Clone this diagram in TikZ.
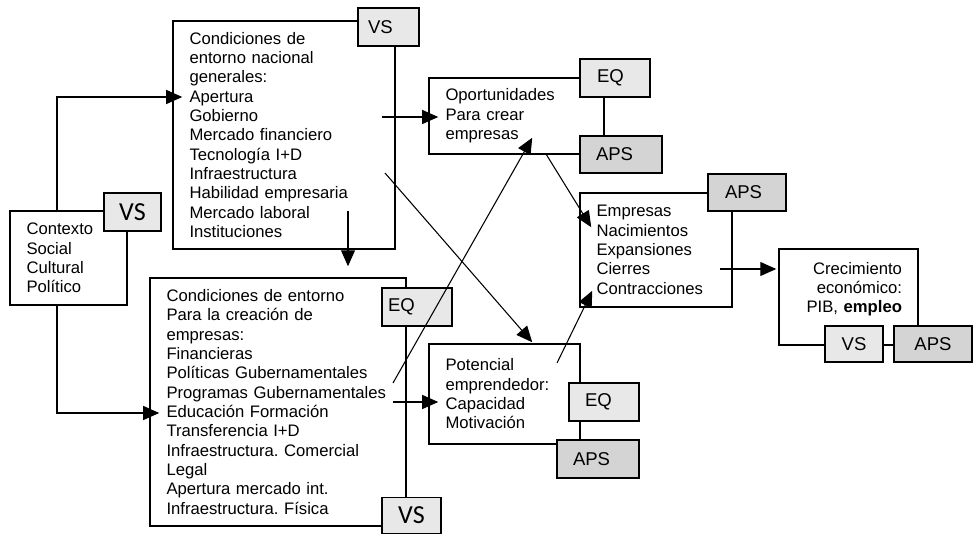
\documentclass[tikz,border=0pt]{standalone}
\usepackage{fontspec}
\setmainfont{Liberation Sans}
\newfontfamily\calib{Carlito}
\usetikzlibrary{arrows.meta,calc}
\definecolor{lg}{RGB}{232,232,232}
\definecolor{dg}{RGB}{212,212,212}
\frenchspacing
\begin{document}
\begin{tikzpicture}[x=0.75pt,y=-0.75pt,
  box/.style n args={3}{draw, line width=1.1pt, fill=white, text width=#1, minimum height=#2,
     inner xsep=12.4pt, inner ysep=0pt, align=#3, font=\fontsize{12.5pt}{14.5pt}\selectfont},
  lbl/.style n args={4}{draw, line width=1.1pt, fill=#4, text width=#1, minimum height=#2,
     inner xsep=#3, inner ysep=0pt, align=left, font=\fontsize{13.9pt}{16pt}\selectfont},
  clbl/.style n args={2}{draw, line width=1.1pt, fill=lg, text width=#1, minimum height=#2,
     inner xsep=6pt, inner ysep=0pt, align=center, font=\calib\fontsize{19.5pt}{22pt}\selectfont},
  alb/.style n args={3}{draw, line width=1.1pt, fill=#3, text width=#1, minimum height=#2,
     inner xsep=6pt, inner ysep=0pt, align=center, font=\fontsize{13.9pt}{16pt}\selectfont},
  arr/.style={line width=0.8pt, -{Triangle[length=12pt,width=10.5pt]}}]
\useasboundingbox (0,0) rectangle (973,534);

% main boxes
\node[box={141.75pt}{171pt}{left}] (b1) at (284,135) {Condiciones de\\ entorno nacional\\ generales:\\ Apertura\\ Gobierno\\ Mercado financiero\\ Tecnología I+D\\ Infraestructura\\ Habilidad empresaria\\ Mercado laboral\\ Instituciones};
\node[box={63pt}{70.5pt}{left}] (ctx) at (68.5,258) {Contexto\\ Social\\ Cultural\\ Político};
\node[box={167.25pt}{186pt}{left}] (b2) at (278,402) {Condiciones de entorno\\ Para la creación de\\ empresas:\\ Financieras\\ Políticas Gubernamentales\\ Programas Gubernamentales\\ Educación Formación\\ Transferencia I+D\\ Infraestructura. Comercial\\ Legal\\ Apertura mercado int.\\ Infraestructura. Física};
\node[box={106.5pt}{57pt}{left}] (opp) at (516.5,116) {Oportunidades\\ Para crear\\ empresas};
\node[box={89.25pt}{85.5pt}{left}] (emp) at (656,250) {Empresas\\ Nacimientos\\ Expansiones\\ Cierres\\ Contracciones};
\node[box={88.5pt}{75pt}{left}] (pot) at (504.5,394) {Potencial\\ emprendedor:\\ Capacidad\\ Motivación};
\node[box={80.25pt}{72pt}{right}, inner xsep=12pt] (cre) at (848.5,297) {Crecimiento\\ económico:\\ PIB, \textbf{empleo}\hspace*{9pt}\\ \mbox{}};

% labels
\node[lbl={30.75pt}{28.5pt}{7.5pt}{lg}] (vs1) at (388.5,27) {VS};
\node[clbl={30.75pt}{28.5pt}] (vsc) at (132.5,212) {VS};
\node[lbl={43.5pt}{28.5pt}{4.5pt}{lg}] (eq2) at (417,307) {EQ};
\node[clbl={32.25pt}{27pt}] (vs2) at (411.5,515.5) {VS};
\node[lbl={27pt}{28.5pt}{12.75pt}{lg}] (eqo) at (615,78) {EQ};
\node[lbl={37.5pt}{27.75pt}{12pt}{dg}] (apso) at (621,154.5) {APS};
\node[lbl={33pt}{27.75pt}{12.75pt}{dg}] (apse) at (747,192.5) {APS};
\node[lbl={28.5pt}{28.5pt}{12pt}{lg}] (eqp) at (604,402) {EQ};
\node[lbl={37.5pt}{28.5pt}{12pt}{dg}] (apsp) at (598,459) {APS};
\node[alb={31.5pt}{27pt}{lg}] (vsC) at (854,344) {VS};
\node[alb={46.5pt}{27pt}{dg}] (apsC) at (933,344) {APS};

% connectors
\coordinate (a1) at (57,97);
\coordinate (a2) at (57,413);
\draw[arr] (a1 |- ctx.north) -- (a1) -- ($(b1.west |- a1)+(10,0)$);
\draw[arr] (a2 |- ctx.south) -- (a2) -- ($(b2.west |- a2)+(10,0)$);
\coordinate (d1) at (348,211);
\draw[arr] (d1) -- ($(d1 |- b2.north)+(0,-11)$);
\coordinate (o1) at (382,117);
\draw[arr] (o1) -- ($(opp.west |- o1)+(10,0)$);
\coordinate (p1) at (385,173);
\draw[arr] (p1) -- ($(pot.north west)+(104,-1)$);
\coordinate (q1) at (393,383);
\draw[arr] (q1) -- ($(opp.south west)+(104,-17)$);
\coordinate (q2) at (393,402);
\draw[arr] (q2) -- ($(pot.west |- q2)+(10,0)$);
\coordinate (r1) at (546,154);
\draw[arr] (r1) -- ($(emp.north west)+(12,35)$);
\coordinate (s1) at (557,363);
\draw[arr] (s1) -- ($(emp.south west)+(13,-17)$);
\coordinate (t1) at (720,269);
\draw[arr] (t1) -- ($(cre.west |- t1)+(-2,0)$);
\end{tikzpicture}
\end{document}
